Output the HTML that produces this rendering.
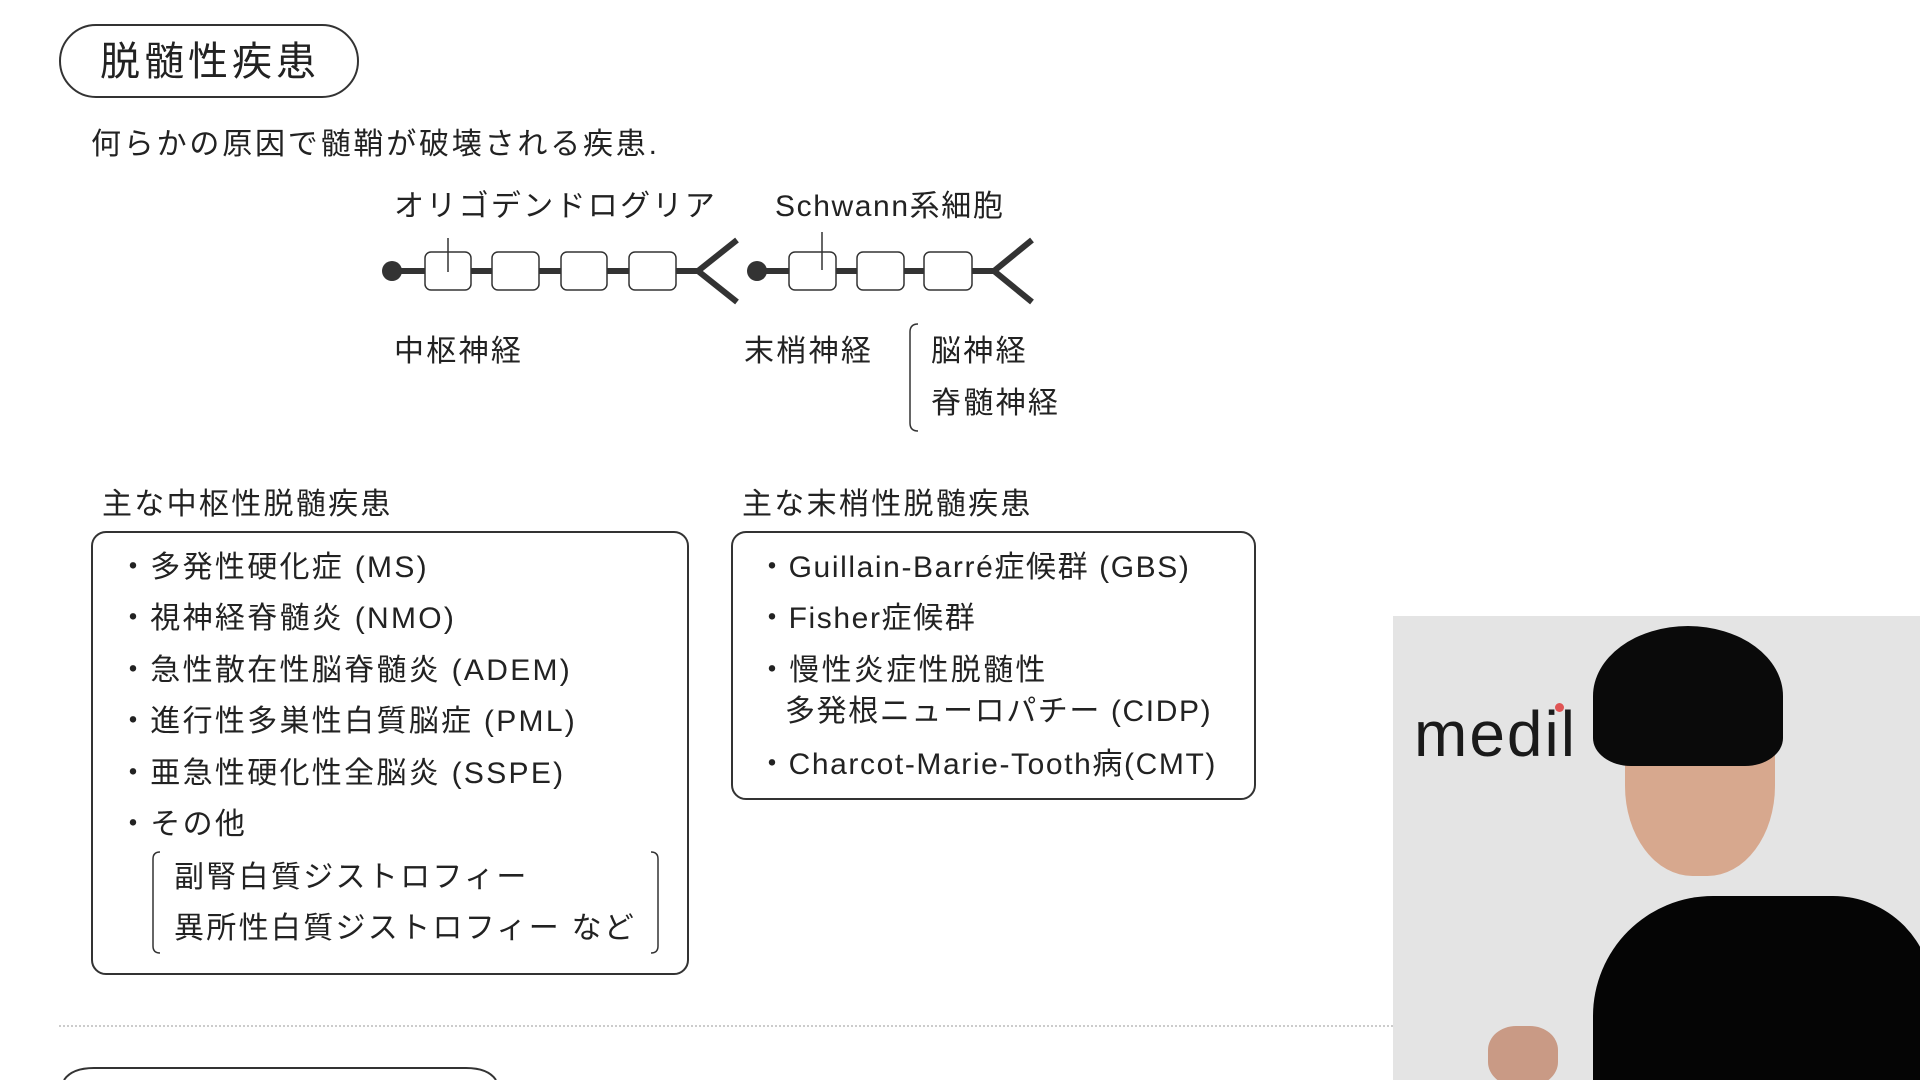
<!DOCTYPE html>
<html style="overflow:hidden;height:1080px"><head><meta charset="utf-8"><style>
html,body{margin:0;width:1920px;height:1080px;overflow:hidden}
body{background:#fff;position:relative;font-family:"Liberation Sans","Noto Sans CJK JP",sans-serif;color:#222}
.t{position:absolute;white-space:nowrap;line-height:1;transform:translateY(-47%)}
.f{font-size:30px;letter-spacing:2.3px}
.l{letter-spacing:1.6px}
.box{position:absolute;border:2px solid #333;border-radius:15px;box-sizing:border-box}
</style></head><body>
<div class="box" style="left:59px;top:24px;width:300px;height:74px;border-radius:37px"></div>
<div class="t" style="left:100px;top:61px;font-size:40px;letter-spacing:4px">脱髄性疾患</div>
<div class="t f" style="left:91px;top:144px;letter-spacing:2.8px">何らかの原因で髄鞘が破壊される疾患.</div>
<div class="t f" style="left:394px;top:206px">オリゴデンドログリア</div>
<div class="t f l" style="left:775px;top:206px">Schwann系細胞</div>
<svg style="position:absolute;left:0;top:0" width="1920" height="1080">
<g stroke="#333" fill="none">
<line x1="392" y1="271" x2="698" y2="271" stroke-width="6"/>
<polyline points="737,240 698,271 737,302" stroke-width="6"/>
<line x1="757" y1="271" x2="994" y2="271" stroke-width="6"/>
<polyline points="1032,240 994,271 1032,302" stroke-width="6"/>
<g fill="#fff" stroke-width="1.5">
<rect x="425" y="252" width="46" height="38" rx="6"/><rect x="492" y="252" width="47" height="38" rx="6"/><rect x="561" y="252" width="46" height="38" rx="6"/><rect x="629" y="252" width="47" height="38" rx="6"/>
<rect x="789" y="252" width="47" height="38" rx="6"/><rect x="857" y="252" width="47" height="38" rx="6"/><rect x="924" y="252" width="48" height="38" rx="6"/>
</g>
<line x1="448" y1="238" x2="448" y2="272" stroke-width="1.5"/>
<line x1="822" y1="232" x2="822" y2="270" stroke-width="1.5"/>
<path d="M918 324 Q910 324 910 332 L910 423 Q910 431 918 431" stroke-width="1.5"/>
<path d="M160 852 Q153 852 153 859 L153 946 Q153 953 160 953" stroke-width="1.5"/>
<path d="M651 852 Q658 852 658 859 L658 946 Q658 953 651 953" stroke-width="1.5"/>
<line x1="59" y1="1026" x2="1393" y2="1026" stroke="#999" stroke-width="1" stroke-dasharray="2,2"/>
<path d="M64 1080 Q72 1068 94 1068 L466 1068 Q488 1068 496 1080" stroke-width="2"/>
</g>
<circle cx="392" cy="271" r="10" fill="#333"/><circle cx="757" cy="271" r="10" fill="#333"/>
</svg>
<div class="t f" style="left:394px;top:351px">中枢神経</div>
<div class="t f" style="left:744px;top:351px">末梢神経</div>
<div class="t f" style="left:931px;top:351px">脳神経</div>
<div class="t f" style="left:931px;top:403px">脊髄神経</div>
<div class="t f" style="left:102px;top:504px">主な中枢性脱髄疾患</div>
<div class="t f" style="left:742px;top:504px">主な末梢性脱髄疾患</div>
<div class="box" style="left:91px;top:531px;width:598px;height:444px"></div>
<div class="box" style="left:731px;top:531px;width:525px;height:269px"></div>
<div class="t f" style="left:118px;top:567px">・多発性硬化症 (MS)</div>
<div class="t f" style="left:118px;top:618px">・視神経脊髄炎 (NMO)</div>
<div class="t f" style="left:118px;top:670px">・急性散在性脳脊髄炎 (ADEM)</div>
<div class="t f" style="left:118px;top:721px">・進行性多巣性白質脳症 (PML)</div>
<div class="t f" style="left:118px;top:773px">・亜急性硬化性全脳炎 (SSPE)</div>
<div class="t f" style="left:118px;top:824px">・その他</div>
<div class="t f" style="left:174px;top:877px">副腎白質ジストロフィー</div>
<div class="t f" style="left:174px;top:928px">異所性白質ジストロフィー など</div>
<div class="t f l" style="left:757px;top:567px">・Guillain-Barré症候群 (GBS)</div>
<div class="t f l" style="left:757px;top:618px">・Fisher症候群</div>
<div class="t f" style="left:757px;top:670px">・慢性炎症性脱髄性</div>
<div class="t f l" style="left:785px;top:711px">多発根ニューロパチー (CIDP)</div>
<div class="t f l" style="left:757px;top:764px">・Charcot-Marie-Tooth病(CMT)</div>
<div style="position:absolute;left:1393px;top:616px;width:527px;height:464px;background:#e4e4e4;overflow:hidden">
<div class="t" style="left:21px;top:116px;font-size:64px;color:#1a1a1a;letter-spacing:2px">medil</div>
<div style="position:absolute;left:162px;top:87px;width:9px;height:9px;border-radius:50%;background:#e05555"></div>
<div style="position:absolute;left:200px;top:280px;width:340px;height:260px;background:#050505;border-radius:120px 100px 0 0"></div>
<div style="position:absolute;left:232px;top:60px;width:150px;height:200px;background:#d7a88e;border-radius:40% 40% 45% 45%"></div>
<div style="position:absolute;left:200px;top:10px;width:190px;height:140px;background:#0a0a0a;border-radius:50% 50% 20% 20%"></div>
<div style="position:absolute;left:95px;top:410px;width:70px;height:60px;background:#c99a85;border-radius:40%"></div>
</div>
</body></html>
